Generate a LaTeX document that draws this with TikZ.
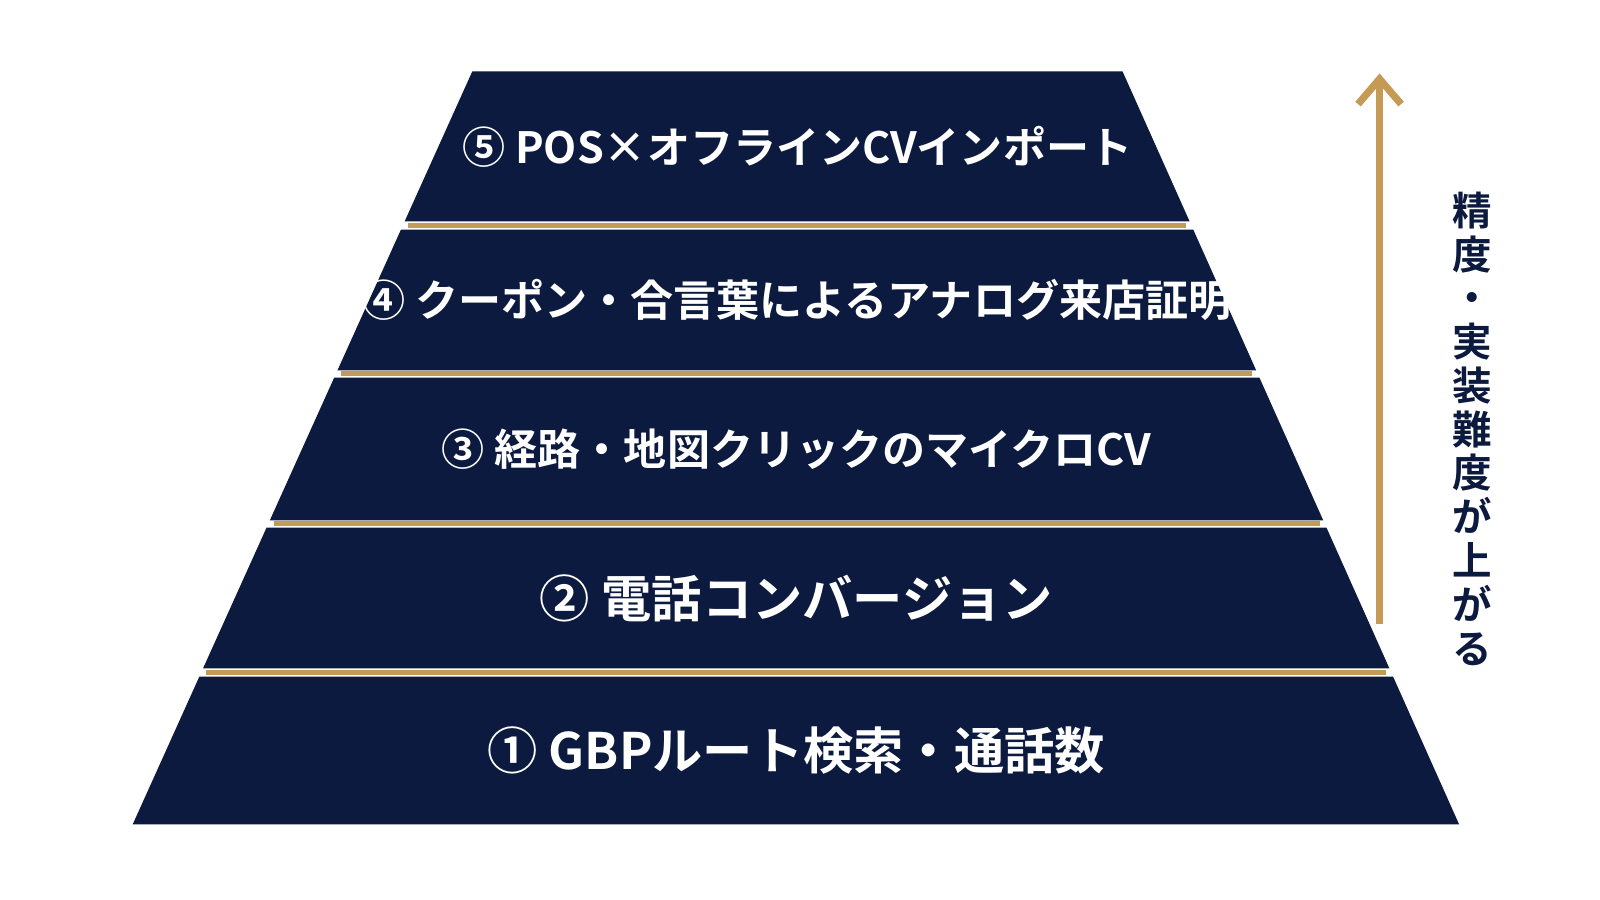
\documentclass[tikz,border=0pt]{standalone}
\usepackage{fontspec}
\setmainfont{Noto Sans CJK JP}[BoldFont={* Bold}]
\usetikzlibrary{arrows.meta,positioning}
\definecolor{navy}{HTML}{0B1A3E}
\definecolor{gold}{HTML}{C49A55}
% left and right edge of the pyramid at height y
\newcommand{\lx}[1]{130+0.451*(808-#1)}
\newcommand{\rx}[1]{1430-0.447*(808-#1)}
\newcommand{\band}[4]{%
  \fill[navy] ({\lx{#2}},#2) -- ({\rx{#2}},#2) -- ({\rx{#1}},#1) -- ({\lx{#1}},#1) -- cycle;
  \node[label] at ({(\lx{(#1+#2)/2}+\rx{(#1+#2)/2})/2},{(#1+#2)/2}) (#3) {#4};}
\begin{document}
\begin{tikzpicture}[x=0.01cm,y=-0.01cm,
    label/.style={text=white, font=\bfseries\fontsize{12}{14}\selectfont},
    big/.style={font=\bfseries\fontsize{14}{16}\selectfont},
    sep/.style={draw=gold, line width=1.4pt},
    arrow/.style={-{Straight Barb[length=7pt,width=12pt,line width=2pt]}, draw=gold, line width=2pt}
  ]
    \useasboundingbox[fill=white] (0,0) rectangle (1568,882);
    % Bands, bottom to top
    \band{808}{663}{b1}{\fontsize{14}{16}\selectfont ① GBPルート検索・通話数}
    \band{655}{517}{b2}{\fontsize{14}{16}\selectfont ② 電話コンバージョン}
    \band{510}{370}{b3}{③ 経路・地図クリックのマイクロCV}
    \band{363}{225}{b4}{④ クーポン・合言葉によるアナログ来店証明}
    \band{217}{70}{b5}{⑤ POS×オフラインCVインポート}
    % Gold separators
    \foreach \y in {659,513,366,221}
      \draw[sep] ({\lx{\y}+5},\y) -- ({\rx{\y}-5},\y);
    % Difficulty arrow
    \coordinate (low) at (1352,612);
    \coordinate (high) at (1352,72);
    \draw[arrow] (low) -- (high);
    \node[text=navy, font=\bfseries\fontsize{11}{12.2}\selectfont, align=center] (note) at (1443,420)
      {精\\度\\・\\実\\装\\難\\度\\が\\上\\が\\る};
\end{tikzpicture}
\end{document}
